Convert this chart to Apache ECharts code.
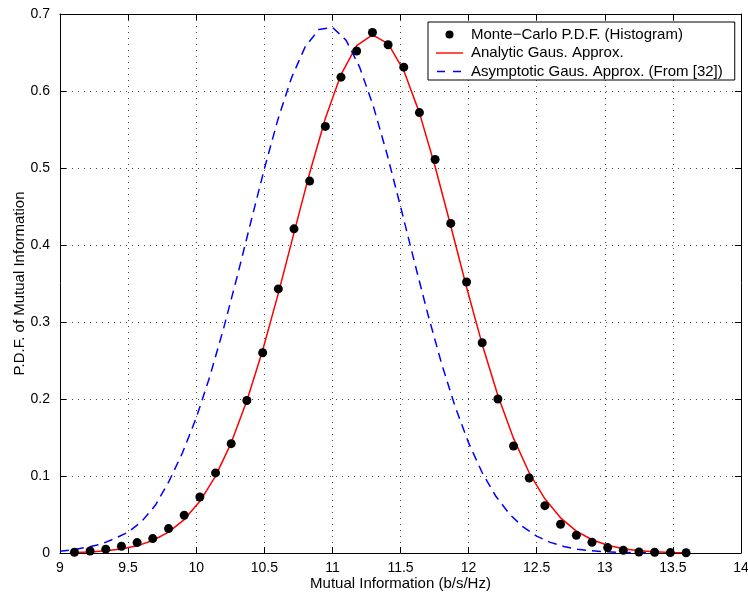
<!DOCTYPE html>
<html>
<head>
<meta charset="utf-8">
<script src="https://cdn.jsdelivr.net/npm/echarts@6/dist/echarts.min.js"></script>
<style>
html,body{margin:0;padding:0;background:#fff;}
#chart{width:748px;height:592px;}
</style>
</head>
<body>
<div id="chart"></div>
<script>
// Monte-Carlo histogram points
const mcX = [9.106, 9.221, 9.336, 9.451, 9.566, 9.681, 9.797, 9.912, 10.027, 10.142,
  10.257, 10.372, 10.488, 10.603, 10.718, 10.833, 10.948, 11.063, 11.178, 11.294,
  11.409, 11.524, 11.639, 11.754, 11.869, 11.985, 12.100, 12.215, 12.330, 12.445,
  12.560, 12.675, 12.791, 12.906, 13.021, 13.136, 13.251, 13.366, 13.481, 13.597];
const mcY = [0.001, 0.0026, 0.005, 0.0087, 0.0135, 0.0187, 0.0317, 0.049, 0.0727, 0.104,
  0.142, 0.198, 0.260, 0.343, 0.421, 0.483, 0.554, 0.618, 0.652, 0.676,
  0.660, 0.631, 0.572, 0.511, 0.428, 0.352, 0.273, 0.200, 0.139, 0.0974,
  0.0615, 0.0373, 0.023, 0.0139, 0.007, 0.0035, 0.0013, 0.001, 0.0005, 0.0003];
// Analytic Gaussian approximation (same abscissae)
const anaY = [0.0007, 0.0014, 0.0028, 0.0052, 0.0093, 0.0162, 0.0271, 0.0434, 0.0671, 0.0999,
  0.1431, 0.1977, 0.2634, 0.3372, 0.4157, 0.4936, 0.5642, 0.6213, 0.6589, 0.673,
  0.6616, 0.6266, 0.5716, 0.502, 0.4246, 0.3452, 0.2709, 0.2046, 0.1488, 0.1042,
  0.0704, 0.0457, 0.0285, 0.0172, 0.0100, 0.0056, 0.0030, 0.0016, 0.0008, 0.0004];
// Asymptotic Gaussian approximation
const asyX = [9.0, 9.1, 9.2, 9.3, 9.4, 9.5, 9.6, 9.7, 9.8, 9.9,
  10.0, 10.1, 10.2, 10.3, 10.4, 10.5, 10.6, 10.7, 10.8, 10.9,
  11.0, 11.1, 11.2, 11.3, 11.4, 11.5, 11.6, 11.7, 11.8, 11.9,
  12.0, 12.1, 12.2, 12.3, 12.4, 12.5, 12.6, 12.7, 12.8, 12.9,
  13.0, 13.1, 13.2, 13.3, 13.4];
const asyY = [0.0024, 0.0043, 0.0075, 0.0115, 0.0187, 0.027, 0.041, 0.062, 0.093, 0.1304,
  0.1754, 0.2293, 0.2909, 0.3585, 0.4291, 0.4987, 0.5631, 0.6173, 0.6573, 0.6798,
  0.6828, 0.6660, 0.6310, 0.5806, 0.5188, 0.4502, 0.3796, 0.3107, 0.2470, 0.1907,
  0.1430, 0.1042, 0.0737, 0.0506, 0.0338, 0.0219, 0.0138, 0.0084, 0.0050, 0.0029,
  0.0016, 0.0009, 0.0005, 0.0002, 0.0001];

const xTicks = ['9', '9.5', '10', '10.5', '11', '11.5', '12', '12.5', '13', '13.5', '14'];
const yTicks = ['0', '0.1', '0.2', '0.3', '0.4', '0.5', '0.6', '0.7'];

const names = ['Monte\u2212Carlo P.D.F. (Histogram)', 'Analytic Gaus. Approx.', 'Asymptotic Gaus. Approx. (From [32])'];

const FONT = '"Liberation Sans", Arial, Helvetica, sans-serif';
const chart = echarts.init(document.getElementById('chart'), null, {renderer: 'canvas'});

const tickStyle = {show: true, inside: true, length: 6, lineStyle: {color: '#000', width: 1}};
const axisLine = {show: true, onZero: false, lineStyle: {color: '#000', width: 1}};
const gridLine = {show: true, lineStyle: {color: '#444', width: 1, type: [1, 5]}};

chart.setOption({
  animation: false,
  backgroundColor: '#fff',
  grid: {left: 60, right: 7, top: 14, bottom: 39, containLabel: false, outerBoundsMode: 'none'},
  xAxis: [{
    type: 'value', min: 9, max: 14, interval: 0.5, position: 'bottom',
    name: 'Mutual Information (b/s/Hz)', nameLocation: 'middle', nameGap: 23, nameMoveOverlap: false,
    nameTextStyle: {fontFamily: FONT, fontSize: 15, color: '#000'},
    axisLine: axisLine, axisTick: tickStyle, splitLine: gridLine,
    axisLabel: {fontFamily: FONT, fontSize: 14, color: '#000', margin: 8,
      formatter: (v) => xTicks[Math.round((v - 9) / 0.5)]}
  }, {
    type: 'value', min: 9, max: 14, interval: 0.5, position: 'top',
    axisLine: axisLine, axisTick: tickStyle, splitLine: {show: false}, axisLabel: {show: false}
  }],
  yAxis: [{
    type: 'value', min: 0, max: 0.7, interval: 0.1, position: 'left',
    name: 'P.D.F. of Mutual Information', nameLocation: 'middle', nameGap: 33, nameMoveOverlap: false,
    nameTextStyle: {fontFamily: FONT, fontSize: 15, color: '#000'},
    axisLine: axisLine, axisTick: tickStyle, splitLine: gridLine,
    axisLabel: {fontFamily: FONT, fontSize: 14, color: '#000', margin: 10,
      formatter: (v) => yTicks[Math.round(v / 0.1)]}
  }, {
    type: 'value', min: 0, max: 0.7, interval: 0.1, position: 'right',
    axisLine: axisLine, axisTick: tickStyle, splitLine: {show: false}, axisLabel: {show: false}
  }],
  legend: {
    orient: 'vertical', left: 428, top: 22,
    backgroundColor: '#fff', borderColor: '#000', borderWidth: 1, borderRadius: 0,
    padding: [5, 12, 1, 8], itemGap: 3.5, itemWidth: 27, itemHeight: 14,
    textStyle: {fontFamily: FONT, fontSize: 15, color: '#000', padding: [0, 0, 0, 3]},
    data: [
      {name: names[0], icon: 'path://M0,0M27,14M9.5,7a4,4 0 1,0 8,0a4,4 0 1,0 -8,0z'},
      {name: names[1], icon: 'path://M0,0M27,14M0,6.3h27v1.4h-27z'},
      {name: names[2], icon: 'path://M0,0M27,14M1,6.3h8v1.4h-8zM17,6.3h8v1.4h-8z'}
    ]
  },
  series: [{
    name: names[0], type: 'scatter', xAxisIndex: 0, yAxisIndex: 0,
    symbol: 'circle', symbolSize: 9, z: 5,
    itemStyle: {color: '#000', opacity: 1},
    data: mcX.map((x, i) => [x, mcY[i]])
  }, {
    name: names[1], type: 'line', xAxisIndex: 0, yAxisIndex: 0,
    showSymbol: false, symbol: 'none', z: 3,
    lineStyle: {color: '#ff0000', width: 1.5},
    itemStyle: {color: '#ff0000'},
    data: mcX.map((x, i) => [x, anaY[i]])
  }, {
    name: names[2], type: 'line', xAxisIndex: 0, yAxisIndex: 0,
    showSymbol: false, symbol: 'none', z: 3,
    lineStyle: {color: '#0000ff', width: 1.5, type: [9, 6]},
    itemStyle: {color: '#0000ff'},
    data: asyX.map((x, i) => [x, asyY[i]])
  }]
});
</script>
</body>
</html>
